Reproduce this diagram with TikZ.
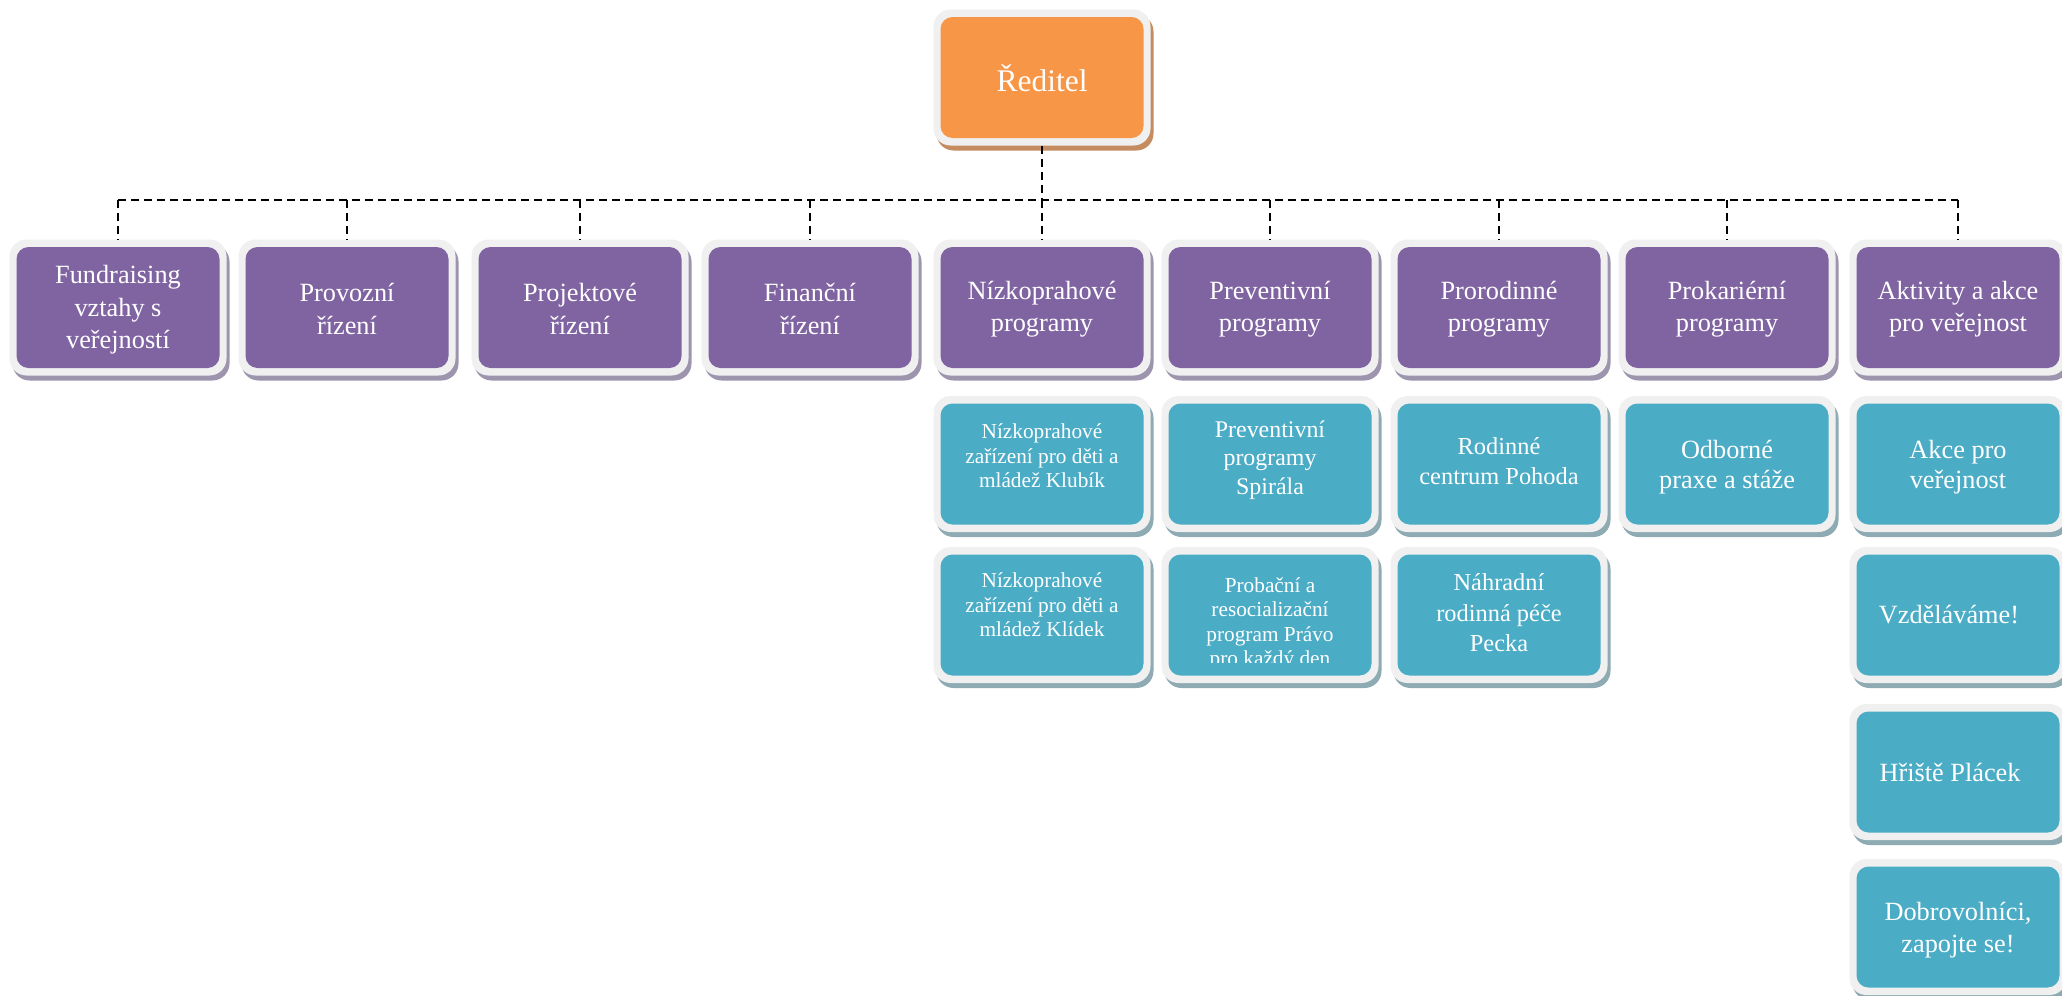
\documentclass[tikz,border=0pt]{standalone}
\usepackage{fontspec}
\setmainfont{Liberation Serif}
\definecolor{orgorange}{HTML}{F79646}
\definecolor{orgpurple}{HTML}{8064A2}
\definecolor{orgteal}{HTML}{4BACC6}
\definecolor{framegray}{HTML}{F0F0F0}
\definecolor{shorange}{HTML}{C48C60}
\definecolor{shpurple}{HTML}{9D94AE}
\definecolor{shteal}{HTML}{8EAAB3}
\tikzset{
  innerbox/.style={rectangle, rounded corners=12pt, minimum width=203pt, minimum height=121pt, inner sep=0pt, outer sep=0pt},
  framebox/.style={rectangle, rounded corners=17pt, fill=framegray, minimum width=217pt, minimum height=136pt, inner sep=0pt, outer sep=0pt},
  shadowbox/.style={rectangle, rounded corners=17pt, minimum width=217pt, minimum height=136pt, inner sep=0pt, outer sep=0pt},
  txt/.style={align=center, text=white, inner sep=0pt},
  tbig/.style={txt, font=\fontsize{31.5}{36}\selectfont},
  tmain/.style={txt, font=\fontsize{26.3}{32.5}\selectfont},
  tmid/.style={txt, font=\fontsize{26.3}{30}\selectfont},
  tsmall/.style={txt, font=\fontsize{21.3}{24.5}\selectfont},
  tspir/.style={txt, font=\fontsize{23.9}{28.5}\selectfont},
  tfam/.style={txt, font=\fontsize{24.4}{30}\selectfont},
  busline/.style={draw=black, line width=2.2pt, dash pattern=on 8pt off 5pt},
}
\newcommand\orgbox[5]{%
  \node[shadowbox, fill=#5] (#1-s) at (#2+3,#3+5) {};
  \node[framebox] (#1-f) at (#2,#3) {};
  \node[innerbox, fill=#4] (#1) at (#2,#3) {};
}
\begin{document}
\begin{tikzpicture}[x=1pt,y=-1pt]
\useasboundingbox (0,0) rectangle (2062,996);
\fill[white] (0,0) rectangle (2062,996);

% director
\orgbox{dir}{1042}{77.5}{orgorange}{shorange}
\node[tbig] (dir-t) at (1042,78) {Ředitel};

% top row
\orgbox{fund}{118}{307.5}{orgpurple}{shpurple}
\orgbox{prov}{347}{307.5}{orgpurple}{shpurple}
\orgbox{proj}{580}{307.5}{orgpurple}{shpurple}
\orgbox{fin}{810}{307.5}{orgpurple}{shpurple}
\orgbox{nizk}{1042}{307.5}{orgpurple}{shpurple}
\orgbox{prev}{1270}{307.5}{orgpurple}{shpurple}
\orgbox{pror}{1499}{307.5}{orgpurple}{shpurple}
\orgbox{prok}{1727}{307.5}{orgpurple}{shpurple}
\orgbox{akt}{1958}{307.5}{orgpurple}{shpurple}
\node[tmain] (fund-t) at (118,310) {Fundraising\\vztahy s\\veřejností};
\node[tmain] (prov-t) at (347,309) {Provozní\\řízení};
\node[tmain] (proj-t) at (580,309) {Projektové\\řízení};
\node[tmain] (fin-t) at (810,309) {Finanční\\řízení};
\node[tmain] (nizk-t) at (1042,309) {Nízkoprahové\\programy};
\node[tmain] (prev-t) at (1270,309) {Preventivní\\programy};
\node[tmain] (pror-t) at (1499,309) {Prorodinné\\programy};
\node[tmain] (prok-t) at (1727,309) {Prokariérní\\programy};
\node[tmain] (akt-t) at (1958,309) {Aktivity a akce\\pro veřejnost};

% second row
\orgbox{klubik}{1042}{464}{orgteal}{shteal}
\orgbox{spiral}{1270}{464}{orgteal}{shteal}
\orgbox{pohoda}{1499}{464}{orgteal}{shteal}
\orgbox{praxe}{1727}{464}{orgteal}{shteal}
\orgbox{akce}{1958}{464}{orgteal}{shteal}
\node[tsmall] (klubik-t) at (1042,456) {Nízkoprahové\\zařízení pro děti a\\mládež Klubík};
\node[tspir] (spiral-t) at (1270,460) {Preventivní\\programy\\Spirála};
\node[tfam] (pohoda-t) at (1499,461) {Rodinné\\centrum Pohoda};
\node[tmid] (praxe-t) at (1727,467) {Odborné\\praxe a stáže};
\node[tmid] (akce-t) at (1958,467) {Akce pro\\veřejnost};

% third row
\orgbox{klidek}{1042}{615}{orgteal}{shteal}
\orgbox{pravo}{1270}{615}{orgteal}{shteal}
\orgbox{pecka}{1499}{615}{orgteal}{shteal}
\orgbox{vzdel}{1958}{615}{orgteal}{shteal}
\node[tsmall] (klidek-t) at (1042,605) {Nízkoprahové\\zařízení pro děti a\\mládež Klídek};
\begin{scope}
  \clip (1168,554) rectangle (1372,662);
  \node[tsmall, font=\fontsize{21.3}{24.5}\selectfont] (pravo-t) at (1270,624) {Probační a\\resocializační\\program Právo\\pro každý den};
\end{scope}
\node[tfam, font=\fontsize{24.4}{30.5}\selectfont] (pecka-t) at (1499,613) {Náhradní\\rodinná péče\\Pecka};
\node[tmid] (vzdel-t) at (1949,615) {Vzděláváme!};

% fourth and fifth rows
\orgbox{hriste}{1958}{772}{orgteal}{shteal}
\orgbox{dobro}{1958}{927}{orgteal}{shteal}
\node[tmid] (hriste-t) at (1950,772) {Hřiště Plácek};
\node[tmain] (dobro-t) at (1958,930) {Dobrovolníci,\\zapojte se!};

% connectors
\coordinate (busL) at (118,200);
\coordinate (busR) at (1958,200);
\draw[busline] (busL) -- (busR);
\draw[busline] (dir-f.south) -- (dir-f.south |- busL);
\foreach \n in {fund,prov,proj,fin,nizk,prev,pror,prok,akt}
  \draw[busline] (\n-f.north |- busL) -- (\n-f.north);
\end{tikzpicture}
\end{document}
